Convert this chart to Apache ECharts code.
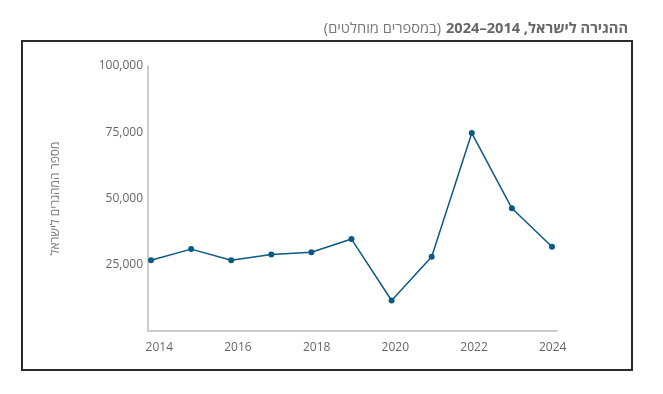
<!DOCTYPE html>
<html>
<head>
<meta charset="utf-8">
<script src="https://cdn.jsdelivr.net/npm/echarts@6/dist/echarts.min.js"></script>
<style>
  html, body { margin: 0; padding: 0; background: #fff; }
  #chart { width: 663px; height: 394px; direction: rtl; }
</style>
</head>
<body>
<div id="chart"></div>
<script>
const years = [2014, 2015, 2016, 2017, 2018, 2019, 2020, 2021, 2022, 2023, 2024];
const immigrants = [26700, 30900, 26700, 28900, 29700, 34700, 11500, 28000, 74700, 46300, 31800];
const xTickLabels = [2014, 2016, 2018, 2020, 2022, 2024];
const yTickValues = [25000, 50000, 75000, 100000];
const titleBold = 'ההגירה לישראל, 2014–2024';
const titleRegular = '(במספרים מוחלטים)';
const yAxisTitle = 'מספר המהגרים לישראל';

const FONT = '"Open Sans", "DejaVu Sans", sans-serif';
const chart = echarts.init(document.getElementById('chart'), null, { renderer: 'canvas' });

const option = {
  animation: false,
  backgroundColor: '#ffffff',
  title: {
    text: '{n|' + titleRegular + '} {b|' + titleBold + '}',
    right: 30,
    top: 15,
    textStyle: {
      rich: {
        b: { fontFamily: FONT, fontSize: 14.6, fontWeight: 'bold', color: '#666666' },
        n: { fontFamily: FONT, fontSize: 14.6, fontWeight: 'normal', color: '#777777' }
      }
    }
  },
  graphic: [{
    type: 'rect',
    shape: { x: 22, y: 41, width: 610, height: 329 },
    style: { fill: 'none', stroke: '#2a2a2a', lineWidth: 2 },
    silent: true
  }],
  grid: { left: 148, right: 106, top: 66, bottom: 63 },
  xAxis: [{
    type: 'value',
    min: 2013.925,
    max: 2024.125,
    axisLine: { show: true, lineStyle: { color: '#cccccc', width: 2 } },
    axisTick: { show: false },
    splitLine: { show: false },
    axisLabel: { show: false }
  }, {
    type: 'value',
    position: 'bottom',
    min: 2013.713,
    max: 2024.109,
    axisLine: { show: false },
    axisTick: { show: false },
    splitLine: { show: false },
    axisLabel: {
      show: true,
      customValues: xTickLabels,
      margin: 11,
      color: '#666666',
      fontFamily: FONT,
      fontSize: 12,
      formatter: v => String(v)
    }
  }],
  yAxis: {
    type: 'value',
    min: 0,
    max: 100000,
    interval: 25000,
    name: yAxisTitle,
    nameLocation: 'middle',
    nameRotate: 90,
    nameGap: 86,
    nameTextStyle: { color: '#777777', fontFamily: FONT, fontSize: 12 },
    axisLine: { show: true, lineStyle: { color: '#cccccc', width: 2 } },
    axisTick: { show: false },
    splitLine: { show: false },
    axisLabel: {
      color: '#666666',
      fontFamily: FONT,
      fontSize: 12,
      margin: 5,
      showMinLabel: false,
      formatter: v => yTickValues.includes(v) ? v.toLocaleString('en-US') : ''
    }
  },
  series: [{
    type: 'line',
    xAxisIndex: 0,
    data: years.map((y, i) => [y, immigrants[i]]),
    symbol: 'circle',
    symbolSize: 6,
    lineStyle: { color: '#0b5a84', width: 1.5 },
    itemStyle: { color: '#0b5a84' }
  }]
};
chart.setOption(option);
</script>
</body>
</html>
